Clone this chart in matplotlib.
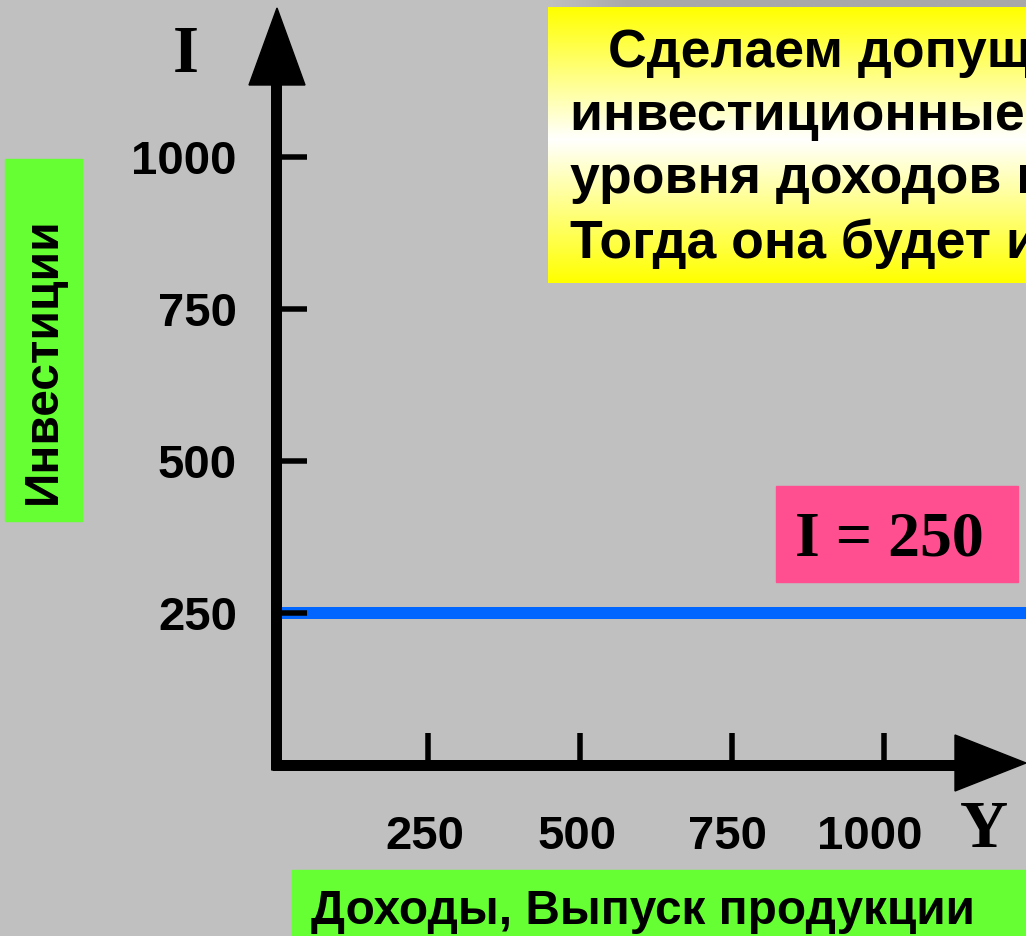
import numpy as np
import matplotlib
matplotlib.use("Agg")
import matplotlib.pyplot as plt
from matplotlib.patches import Rectangle, Polygon
from matplotlib.colors import LinearSegmentedColormap

# ---- data ----
x_ticks = [250, 500, 750, 1000]
y_ticks = [250, 500, 750, 1000]
x_tick_labels = ["250", "500", "750", "1000"]
y_tick_labels = ["250", "500", "750", "1000"]
investment_level = 250
x_axis_label = "Доходы, Выпуск продукции"
y_axis_label = "Инвестиции"
x_symbol = "Y"
y_symbol = "I"
line_label = "I = 250"
note_lines = ["Сделаем допущение, что",
              "инвестиционные расходы не зависят от",
              "уровня доходов и выпуска продукции.",
              "Тогда она будет иметь вид:"]

W, H = 1026, 936
BG = "#C0C0C0"
SANS = ["Liberation Sans", "DejaVu Sans"]
SERIF = ["Liberation Serif", "DejaVu Serif"]

fig = plt.figure(figsize=(W / 100, H / 100), dpi=100, facecolor=BG)
ax = fig.add_axes([0, 0, 1, 1])
ax.set_facecolor(BG)
ax.axis("off")

# pixel <-> data (origin at px (276,765), 152 px per 250 units)
OX, OY, S = 276, 765, 152 / 250
def DX(px): return (px - OX) / S
def DY(py): return (OY - py) / S
ax.set_xlim(DX(0), DX(W))
ax.set_ylim(DY(H), DY(0))

def fx(px): return px / W
def fy(py): return 1 - py / H

lw_axis = 11 * 0.72
lw_tick = 5.5 * 0.72

# axes lines
ax.plot([0, 0], [DY(770), DY(80)], color="black", lw=lw_axis, solid_capstyle="butt", zorder=5)
ax.plot([DX(272), DX(960)], [0, 0], color="black", lw=lw_axis, solid_capstyle="butt", zorder=5)
# arrowheads
ax.add_patch(Polygon([[DX(249), DY(85)], [DX(305), DY(85)], [DX(277), DY(8)]],
                     closed=True, color="black", zorder=6))
ax.add_patch(Polygon([[DX(955), DY(735)], [DX(955), DY(791)], [DX(1026), DY(763)]],
                     closed=True, color="black", zorder=6))

# investment line
ax.plot([0, DX(W)], [investment_level, investment_level], color="#0066FF",
        lw=12 * 0.72, solid_capstyle="butt", zorder=4)

# ticks
for v, lab in zip(y_ticks, y_tick_labels):
    ax.plot([0, DX(307)], [v, v], color="black", lw=lw_tick, solid_capstyle="butt", zorder=7)
    ax.text(DX(237), v - 17 / S, lab, ha="right", va="baseline", fontsize=34,
            fontweight="bold", family=SANS, zorder=8)
x_label_shift = [-3, -3, -4, -14]
for v, lab, sh_px in zip(x_ticks, x_tick_labels, x_label_shift):
    ax.plot([v, v], [0, DY(733)], color="black", lw=lw_tick, solid_capstyle="butt", zorder=7)
    ax.text(v + sh_px / S, DY(849), lab, ha="center", va="baseline", fontsize=34,
            fontweight="bold", family=SANS, zorder=8)

# axis symbols
fig.text(fx(186), fy(72), y_symbol, ha="center", va="baseline", fontsize=48,
         fontweight="bold", family=SERIF)
fig.text(fx(984), fy(847), x_symbol, ha="center", va="baseline", fontsize=48,
         fontweight="bold", family=SERIF)

# left green label box
fig.patches.append(Rectangle((fx(5), fy(521)), fx(82) - fx(5), fy(159) - fy(521),
                             transform=fig.transFigure, color="#66FF33", zorder=1))
fig.text(fx(43), fy(361), y_axis_label, rotation=90, ha="center", va="center",
         fontsize=34.5, fontweight="bold", family=SANS, zorder=3)

# bottom green label box
fig.patches.append(Rectangle((fx(292), fy(936)), fx(1026) - fx(292), fy(870) - fy(936),
                             transform=fig.transFigure, color="#66FF33", zorder=1))
fig.text(fx(311), fy(924), x_axis_label, ha="left", va="baseline",
         fontsize=34.4, fontweight="bold", family=SANS, zorder=3)

# pink label box
fig.patches.append(Rectangle((fx(776), fy(582)), fx(1018) - fx(776), fy(486) - fy(582),
                             transform=fig.transFigure, color="#FF4F91", zorder=1))
fig.text(fx(795), fy(555), line_label, ha="left", va="baseline", fontsize=46,
         fontweight="bold", family=SERIF, zorder=3)

# shadow above yellow box
sh = fig.add_axes([fx(548), fy(9), 1 - fx(548), fy(0) - fy(9)])
sh.axis("off")
gradx = np.linspace(0, 1, 200)[None, :]
sh.imshow(np.clip(gradx * 6, 0, 1), aspect="auto", extent=[0, 1, 0, 1],
          cmap=LinearSegmentedColormap.from_list("s", [BG, "#A8A8A8"]))

# yellow gradient box
yb = fig.add_axes([fx(548), fy(283), 1 - fx(548), fy(7) - fy(283)])
yb.axis("off")
t = np.linspace(0, 1, 300)[:, None]
cmap = LinearSegmentedColormap.from_list("yw", [(0, "#FFFF00"), (0.48, "#FFFFFF"), (1, "#FFFF00")])
yb.imshow(t, aspect="auto", cmap=cmap, extent=[0, 1, 0, 1], origin="upper")

starts = [608, 570, 570, 570]
bases = [67, 130, 193, 258]
for line, x0, b in zip(note_lines, starts, bases):
    fig.text(fx(x0), fy(b), line, ha="left", va="baseline", fontsize=38.5,
             fontweight="bold", family=SANS, zorder=5)

fig.savefig("out.png", dpi=100, facecolor=BG)
